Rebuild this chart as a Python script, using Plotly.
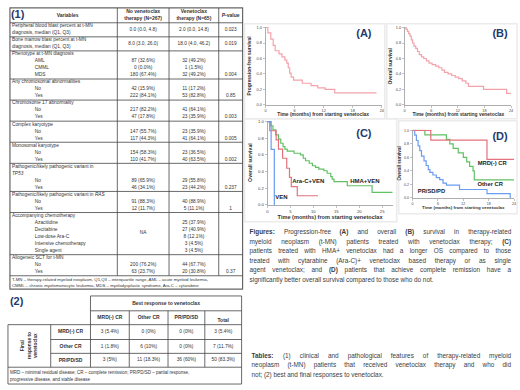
import plotly.graph_objects as go

W, H = 520, 390
FONT = "Liberation Sans, Arial, sans-serif"
NAVY = "#1f3a6e"
TXT = "#333333"
CAP = "#3c3c3c"

# ---------------- Kaplan-Meier data ----------------
pfs_t = [0, 0.5, 1.1, 1.6, 2.0, 2.8, 3.4, 4.0, 4.4, 4.7, 5.0, 5.3, 5.8, 7.6, 9.4, 10.8, 12.3, 14.3, 22.9]
pfs_s = [1.0, 0.93, 0.85, 0.77, 0.70, 0.66, 0.62, 0.58, 0.54, 0.48, 0.41, 0.36, 0.32, 0.28, 0.25, 0.22, 0.20, 0.155, 0.155]

os_t = [0, 0.3, 0.6, 0.9, 1.2, 1.5, 1.8, 2.1, 2.5, 2.9, 3.3, 3.8, 4.3, 4.9, 5.5, 6.2, 7.0, 7.7, 8.4, 9.0,
        9.8, 10.6, 11.4, 12.2, 13.0, 13.8, 14.4, 17.8, 23.0, 24]
os_s = [1.0, 0.98, 0.95, 0.92, 0.89, 0.84, 0.80, 0.76, 0.73, 0.69, 0.65, 0.62, 0.60, 0.57, 0.54, 0.52, 0.50, 0.48, 0.45, 0.42,
        0.40, 0.38, 0.36, 0.34, 0.31, 0.28, 0.24, 0.20, 0.15, 0.15]

hma_t = [0, 0.7, 1.2, 1.8, 2.4, 2.9, 3.4, 3.8, 4.3, 5.8, 7.2, 7.8, 8.3, 9.1, 9.8, 10.5, 11.2, 12.3, 13.0, 13.8, 14.1, 14.5, 17.4, 22.8, 27.3]
hma_s = [1.0, 0.95, 0.90, 0.84, 0.79, 0.74, 0.70, 0.67, 0.645, 0.62, 0.60, 0.56, 0.53, 0.50, 0.47, 0.45, 0.43, 0.41, 0.38, 0.34, 0.31, 0.28, 0.23, 0.15, 0.15]
arac_t = [0, 0.5, 1.9, 2.4, 3.3, 4.2, 4.8, 5.2, 6.5, 11.0]
arac_s = [1.0, 0.89, 0.78, 0.67, 0.56, 0.44, 0.33, 0.22, 0.11, 0.11]
ven_t = [0, 0.8, 1.5]
ven_s = [1.0, 0.667, 0.0]

mrd_t = [0, 4.3, 17.6, 24]
mrd_s = [1.0, 0.857, 0.571, 0.571]
ocr_t = [0, 2.9, 8.0, 8.8, 9.6, 10.8, 12.0, 12.8, 13.5, 14.3, 14.6, 24]
ocr_s = [1.0, 0.933, 0.867, 0.80, 0.733, 0.667, 0.60, 0.533, 0.467, 0.40, 0.267, 0.267]
prd_t = [0, 0.5, 0.9, 1.3, 1.7, 2.1, 2.7, 3.2, 3.7, 4.1, 4.8, 5.6, 6.4, 7.2, 8.0, 11.1, 17.6, 23.1]
prd_s = [1.0, 0.93, 0.85, 0.77, 0.70, 0.62, 0.55, 0.48, 0.42, 0.38, 0.34, 0.30, 0.27, 0.22, 0.19, 0.125, 0.063, 0.0]

y_ticks = [0, 0.2, 0.4, 0.6, 0.8, 1.0]
y_ticktext = ["0.0", "0.2", "0.4", "0.6", "0.8", "1.0"]
x_ticks_24 = [0, 6, 12, 18, 24]
x_ticks_c = [0, 5, 10, 15, 20, 25]

# ---------------- Table 1 data ----------------
t1_head = ["Variables", ["No venetoclax", "therapy (N=267)"], ["Venetoclax", "therapy (N=65)"], "<i>P</i>-value"]
t1_groups = [
    (["Peripheral blood blast percent at t-MN", "diagnosis, median (Q1, Q3)"], "0.0 (0.0, 4.8)", "2.0 (0.0, 14.8)", "0.023"),
    (["Bone marrow blast percent at t-MN", "diagnosis, median (Q1, Q3)"], "8.0 (3.0, 26.0)", "18.0 (4.0, 46.2)", "0.019"),
    (["Phenotype at t-MN diagnosis", "AML", "CMML", "MDS"],
     ["", "87 (32.6%)", "0 (0.0%)", "180 (67.4%)"], ["", "32 (49.2%)", "1 (1.5%)", "32 (49.2%)"], "0.004"),
    (["Any chromosomal abnormalities", "No", "Yes"], ["", "42 (15.9%)", "222 (84.1%)"], ["", "11 (17.2%)", "53 (82.8%)"], "0.85"),
    (["Chromosome 17 abnormality", "No", "Yes"], ["", "217 (82.2%)", "47 (17.8%)"], ["", "41 (64.1%)", "23 (35.9%)"], "0.003"),
    (["Complex karyotype", "No", "Yes"], ["", "147 (55.7%)", "117 (44.3%)"], ["", "23 (35.9%)", "41 (64.1%)"], "0.005"),
    (["Monosomal karyotype", "No", "Yes"], ["", "154 (58.3%)", "110 (41.7%)"], ["", "23 (36.5%)", "40 (63.5%)"], "0.002"),
    (["Pathogenic/likely pathogenic variant in", "<i>TP53</i>", "No", "Yes"],
     ["", "", "89 (65.9%)", "46 (34.1%)"], ["", "", "29 (55.8%)", "23 (44.2%)"], "0.237"),
    (["Pathogenic/likely pathogenic variant in <i>RAS</i>", "No", "Yes"], ["", "91 (88.3%)", "12 (11.7%)"], ["", "40 (88.9%)", "5 (11.1%)"], "1"),
    (["Accompanying chemotherapy", "Azacitidine", "Decitabine", "Low-dose Ara-C", "Intensive chemotherapy", "Single agent"],
     "NA", ["", "25 (37.9%)", "27 (40.9%)", "8 (12.1%)", "3 (4.5%)", "3 (4.5%)"], ""),
    (["Allogeneic SCT for t-MN", "No", "Yes"], ["", "200 (76.2%)", "63 (23.7%)"], ["", "44 (67.7%)", "20 (30.8%)"], "0.37"),
]
t1_note = ["T-MN \u2013 therapy-related myeloid neoplasm, Q1,Q3 \u2013 interquartile range, AML \u2013 acute myeloid leukemia,",
           "CMML \u2013 chronic myelomonocytic leukemia, MDS \u2013 myelodysplastic syndrome, Ara-C \u2013 cytarabine"]

# ---------------- Table 2 data ----------------
t2_title = "Best response to venetoclax"
t2_cols = ["MRD(-) CR", "Other CR", "PR/PD/SD", "Total"]
t2_rows = ["MRD(-) CR", "Other CR", "PR/PD/SD"]
t2_vals = [["3 (5.4%)", "0 (0%)", "0 (0%)", "3 (5.4%)"],
           ["1 (1.8%)", "6 (10%)", "0 (0%)", "7 (11.7%)"],
           ["3 (5%)", "11 (18.3%)", "36 (60%)", "50 (83.3%)"]]
t2_side = "Final<br>response to<br>venetoclax"
t2_note = ["MRD \u2013 minimal residual disease; CR \u2013 complete remission; PR/PD/SD \u2013 partial response,",
           "progressive disease, and stable disease"]

fig_caption = ["Figures: Progression-free (A) and overall (B) survival in therapy-related",
               "myeloid neoplasm (t-MN) patients treated with venetoclax therapy; (C)",
               "patients treated with HMA+ venetoclax had a longer OS compared to those",
               "treated with cytarabine (Ara-C)+ venetoclax based therapy or as single",
               "agent venetoclax; and (D) patients that achieve complete remission have a",
               "significantly better overall survival compared to those who do not."]
tab_caption = ["Tables: (1) clinical and pathological features of therapy-related myeloid",
               "neoplasm (t-MN) patients that received venetoclax therapy and who did",
               "not; (2) best and final responses to venetoclax."]
bold_tokens = {"Figures:", "(A)", "(B)", "(C)", "(D)", "Tables:"}

# ---------------- helpers ----------------
def px(x):
    return x / W

def py(y):
    return 1 - y / H

shapes = []
ann = []
buckets = {}

def line(x0, y0, x1, y1, color="#444", width=0.8):
    shapes.append(dict(type="line", xref="paper", yref="paper", x0=px(x0), y0=py(y0), x1=px(x1), y1=py(y1),
                       line=dict(color=color, width=width), layer="above"))

def rect(x0, y0, x1, y1, color, width=1.0):
    shapes.append(dict(type="rect", xref="paper", yref="paper", x0=px(x0), y0=py(y0), x1=px(x1), y1=py(y1),
                       line=dict(color=color, width=width), fillcolor="rgba(0,0,0,0)", layer="below"))

def text(x, y, s, size=5, anchor="left", bold=False, color=TXT, angle=0):
    if bold:
        s = "<b>" + s + "</b>"
    if angle:
        ann.append(dict(x=px(x), y=py(y), xref="paper", yref="paper", text=s, showarrow=False,
                        xanchor=anchor, yanchor="middle", textangle=angle, borderpad=0,
                        font=dict(size=size, color=color, family=FONT)))
        return
    key = (size, color, anchor)
    b = buckets.setdefault(key, ([], [], []))
    b[0].append(x)
    b[1].append(y)
    b[2].append(s)

# Arial metrics (per 1000 em)
REG = {' ': 278, '(': 333, ')': 333, ',': 278, '-': 333, '.': 278, ':': 278, ';': 278, '+': 584,
       'A': 667, 'B': 667, 'C': 722, 'D': 722, 'E': 667, 'F': 611, 'H': 722, 'M': 833, 'N': 722, 'O': 778, 'S': 667, 'T': 611,
       'a': 556, 'b': 556, 'c': 500, 'd': 556, 'e': 556, 'f': 278, 'g': 556, 'h': 556, 'i': 222, 'j': 222, 'k': 500,
       'l': 222, 'm': 833, 'n': 556, 'o': 556, 'p': 556, 'q': 556, 'r': 333, 's': 500, 't': 278, 'u': 556, 'v': 500,
       'w': 722, 'x': 500, 'y': 500, 'z': 500, '1': 556, '2': 556}
BOLD = {'(': 333, ')': 333, ':': 333, 'A': 722, 'B': 722, 'C': 722, 'D': 722, 'F': 611, 'T': 611,
        'a': 556, 'b': 611, 'e': 556, 'g': 611, 'i': 278, 'l': 278, 'r': 389, 's': 556, 'u': 611}

def word_w(w, bold, size):
    tb = BOLD if bold else REG
    return sum(tb.get(c, REG.get(c, 556)) for c in w) * size / 1000.0

def caption(lines, x0, x1, y0, dy, size):
    for i, ln in enumerate(lines):
        words = ln.split(" ")
        bl = [w in bold_tokens for w in words]
        ws = [word_w(w, b, size) for w, b in zip(words, bl)]
        sp = REG[' '] * size / 1000.0
        if i == len(lines) - 1:
            gap = sp
        else:
            gap = max(sp * 0.7, (x1 - x0 - sum(ws)) / (len(words) - 1))
        x = x0
        for w, b, wd in zip(words, bl, ws):
            text(x, y0 + i * dy, w, size=size, bold=b, color=CAP)
            x += wd + gap

# ---------------- Table 1 drawing ----------------
L, C1, C2, C3, R = 9, 117, 169, 219, 243
TOP, HB = 6, 21
LH = 7.1
mid1, mid2, mid3 = (C1 + C2) / 2, (C2 + C3) / 2, (C3 + R) / 2
text(10, 13.5, "(1)", size=11, bold=True, color=NAVY)
text((L + C1) / 2 + 4, 13.5, t1_head[0], size=5, anchor="center", bold=True)
for c, hh in ((mid1, t1_head[1]), (mid2, t1_head[2])):
    text(c, 9.5, hh[0], size=5, anchor="center", bold=True)
    text(c, 17, hh[1], size=5, anchor="center", bold=True)
text(mid3, 13.5, t1_head[3], size=5, anchor="center", bold=True)
line(L, HB, R, HB)
y = HB
for labels, nov, ven, p in t1_groups:
    n = len(labels)
    for i, lb in enumerate(labels):
        yy = y + 3.2 + LH * i
        is_sub = (i > 0) and not (labels[0].startswith("Peripheral") or labels[0].startswith("Bone")
                                  or lb.startswith("<i>TP53"))
        text(34 if is_sub else 11, yy, lb, size=4.8)
        if isinstance(nov, list) and nov[i]:
            text(mid1, yy, nov[i], size=4.8, anchor="center")
        if isinstance(ven, list) and ven[i]:
            text(mid2, yy, ven[i], size=4.8, anchor="center")
    if isinstance(nov, str):
        yv = y + LH * n / 2 - 0.3 if n > 2 else y + LH - 0.3
        text(mid1, yv, nov, size=4.8, anchor="center")
    if isinstance(ven, str):
        text(mid2, y + LH - 0.3, ven, size=4.8, anchor="center")
        text(mid3, y + LH - 0.3, p, size=4.8, anchor="center")
    elif p:
        text(mid3, y + 3.2 + LH * (n - 1), p, size=4.8, anchor="center")
    y += LH * n
    line(L, y, R, y)
text(11, y + 4.5, t1_note[0], size=4.3)
text(11, y + 10.5, t1_note[1], size=4.3)
BOT = y + 13.5
line(C1, TOP, C1, y)
line(C2, TOP, C2, y)
line(C3, TOP, C3, y)
rect(L, TOP, R, BOT, "#666", 1.2)

# ---------------- Table 2 drawing ----------------
xs = [7, 50, 90, 129, 168, 205, 242]
ys = [297, 312, 326, 341, 355, 369, 386]
text(9, 303, "(2)", size=11, bold=True, color=NAVY)
line(xs[2], ys[0], xs[6], ys[0])
line(xs[2], ys[1], xs[6], ys[1])
line(xs[0], ys[2], xs[6], ys[2])
line(xs[1], ys[3], xs[6], ys[3])
line(xs[1], ys[4], xs[6], ys[4])
line(xs[0], ys[5], xs[6], ys[5])
line(xs[0], ys[6], xs[6], ys[6])
line(xs[2], ys[0], xs[2], ys[5])
line(xs[6], ys[0], xs[6], ys[6])
line(xs[0], ys[2], xs[0], ys[6])
line(xs[1], ys[2], xs[1], ys[5])
for k in (3, 4, 5):
    line(xs[k], ys[1], xs[k], ys[5])
text((xs[2] + xs[6]) / 2, (ys[0] + ys[1]) / 2, t2_title, size=5, anchor="center", bold=True)
for j, cname in enumerate(t2_cols):
    yy = (ys[1] + ys[2]) / 2 + (3.5 if cname == "Total" else 0)
    text((xs[2 + j] + xs[3 + j]) / 2, yy, cname, size=5, anchor="center", bold=True)
for i, rname in enumerate(t2_rows):
    yy = (ys[2 + i] + ys[3 + i]) / 2
    text((xs[1] + xs[2]) / 2, yy, rname, size=5, anchor="center", bold=True)
    for j, v in enumerate(t2_vals[i]):
        text((xs[2 + j] + xs[3 + j]) / 2, yy, v, size=4.8, anchor="center")
text((xs[0] + xs[1]) / 2, (ys[2] + ys[5]) / 2, t2_side, size=4.8, anchor="center", bold=True, angle=-90)
text(9, 375, t2_note[0], size=4.5)
text(9, 381.5, t2_note[1], size=4.5)

# ---------------- Captions ----------------
caption(fig_caption, 250, 513, 233, 9.6, 6.4)
caption(tab_caption, 252, 513, 358, 9.6, 6.4)

# ---------------- KM panels ----------------
fig = go.Figure()
PINK = "#f4a2aa"
RED = "#e4717b"
GREEN = "#62c064"
BLUE = "#6a9cf0"

def km(t, s, color, n):
    xa = "x" if n == 1 else "x%d" % n
    ya = "y" if n == 1 else "y%d" % n
    fig.add_trace(go.Scatter(x=t, y=s, mode="lines", line=dict(color=color, width=1.2, shape="hv"),
                             xaxis=xa, yaxis=ya, hoverinfo="skip", showlegend=False))

km(pfs_t, pfs_s, PINK, 1)
km(os_t, os_s, PINK, 2)
km(hma_t, hma_s, GREEN, 3)
km(arac_t, arac_s, RED, 3)
km(ven_t, ven_s, BLUE, 3)
km(prd_t, prd_s, BLUE, 4)
km(ocr_t, ocr_s, GREEN, 4)
km(mrd_t, mrd_s, RED, 4)

panels = [
    (1, (266, 383), (25, 104), (0, 24), x_ticks_24, 3.8),
    (2, (406, 513), (25, 104), (0, 24), x_ticks_24, 3.8),
    (3, (268, 394), (120, 205), (0, 27.3), x_ticks_c, 4.2),
    (4, (414, 516), (129, 198), (0, 24), x_ticks_24, 3.6),
]
layout_axes = {}
for n, (x0, x1), (yt, yb), xr, xt, fs in panels:
    kx = "xaxis" if n == 1 else "xaxis%d" % n
    ky = "yaxis" if n == 1 else "yaxis%d" % n
    anc_y = "y" if n == 1 else "y%d" % n
    anc_x = "x" if n == 1 else "x%d" % n
    layout_axes[kx] = dict(domain=[px(x0), px(x1)], range=list(xr), tickvals=xt, anchor=anc_y,
                           showline=True, linecolor="#9a9a9a", linewidth=0.8, ticks="outside", ticklen=2,
                           tickwidth=0.6, tickcolor="#9a9a9a", tickfont=dict(size=fs, color="#444", family=FONT),
                           showgrid=False, zeroline=False, fixedrange=True)
    layout_axes[ky] = dict(domain=[py(yb), py(yt)], range=[0, 1.01], tickvals=y_ticks, ticktext=y_ticktext,
                           anchor=anc_x, showline=True, linecolor="#9a9a9a", linewidth=0.8, ticks="outside",
                           ticklen=2, tickwidth=0.6, tickcolor="#9a9a9a",
                           tickfont=dict(size=fs, color="#444", family=FONT),
                           showgrid=False, zeroline=False, fixedrange=True)

# panel frames
rect(245, 22, 386, 118, "#ebebeb", 1.5)
rect(388, 22, 519, 118, "#ebebeb", 1.5)
rect(245, 118, 398, 222, "#ebebeb", 1.5)
rect(400, 120, 519, 214, "#ebebeb", 1.5)

# axis titles and labels
XT = "Time (months) from starting venetoclax"
text(324, 114, XT, size=4.9, anchor="center", bold=True)
text(460, 114, XT, size=4.9, anchor="center", bold=True)
text(331, 217.5, XT, size=5.6, anchor="center", bold=True)
text(465, 208.5, XT, size=4.4, anchor="center", bold=True)
text(250, 64.5, "Progression-free survival", size=4.9, anchor="center", bold=True, angle=-90)
text(392, 64.5, "Overall survival", size=4.9, anchor="center", bold=True, angle=-90)
text(251, 162, "Overall survival", size=5.2, anchor="center", bold=True, angle=-90)
text(401, 163.5, "Overall survival", size=4.6, anchor="center", bold=True, angle=-90)
text(365, 33, "(A)", size=11, anchor="center", bold=True, color=NAVY)
text(502, 33, "(B)", size=11, anchor="center", bold=True, color=NAVY)
text(365, 134, "(C)", size=11, anchor="center", bold=True, color=NAVY)
text(502, 137, "(D)", size=11, anchor="center", bold=True, color=NAVY)
text(309, 181, "Ara-C+VEN", size=6, anchor="center", bold=True, color="#222")
text(366, 181, "HMA+VEN", size=6, anchor="center", bold=True, color="#222")
text(282, 198, "VEN", size=6, anchor="center", bold=True, color="#222")
text(494, 163, "MRD(-) CR", size=5.8, anchor="center", bold=True, color="#222")
text(492, 184, "Other CR", size=5.8, anchor="center", bold=True, color="#222")
text(433, 192, "PR/SD/PD", size=5.8, anchor="center", bold=True, color="#222")

# text layer: a full-page pixel axis
for (size, color, anchor), (bx, by, bt) in buckets.items():
    fig.add_trace(go.Scatter(x=bx, y=by, text=bt, mode="text",
                             textposition="middle right" if anchor == "left" else "middle center",
                             textfont=dict(size=size, color=color, family=FONT), cliponaxis=False,
                             xaxis="x5", yaxis="y5", hoverinfo="skip", showlegend=False))
layout_axes["xaxis5"] = dict(domain=[0, 1], range=[0, W], visible=False, fixedrange=True, anchor="y5")
layout_axes["yaxis5"] = dict(domain=[0, 1], range=[H, 0], visible=False, fixedrange=True, anchor="x5")

fig.update_layout(width=W, height=H, margin=dict(l=0, r=0, t=0, b=0), paper_bgcolor="white",
                  plot_bgcolor="rgba(0,0,0,0)", showlegend=False, shapes=shapes, annotations=ann,
                  font=dict(family=FONT), **layout_axes)
fig.write_html("out.html", config={"displayModeBar": False, "staticPlot": True},
               post_script="document.body.style.margin='0px';document.body.style.padding='0px';")
